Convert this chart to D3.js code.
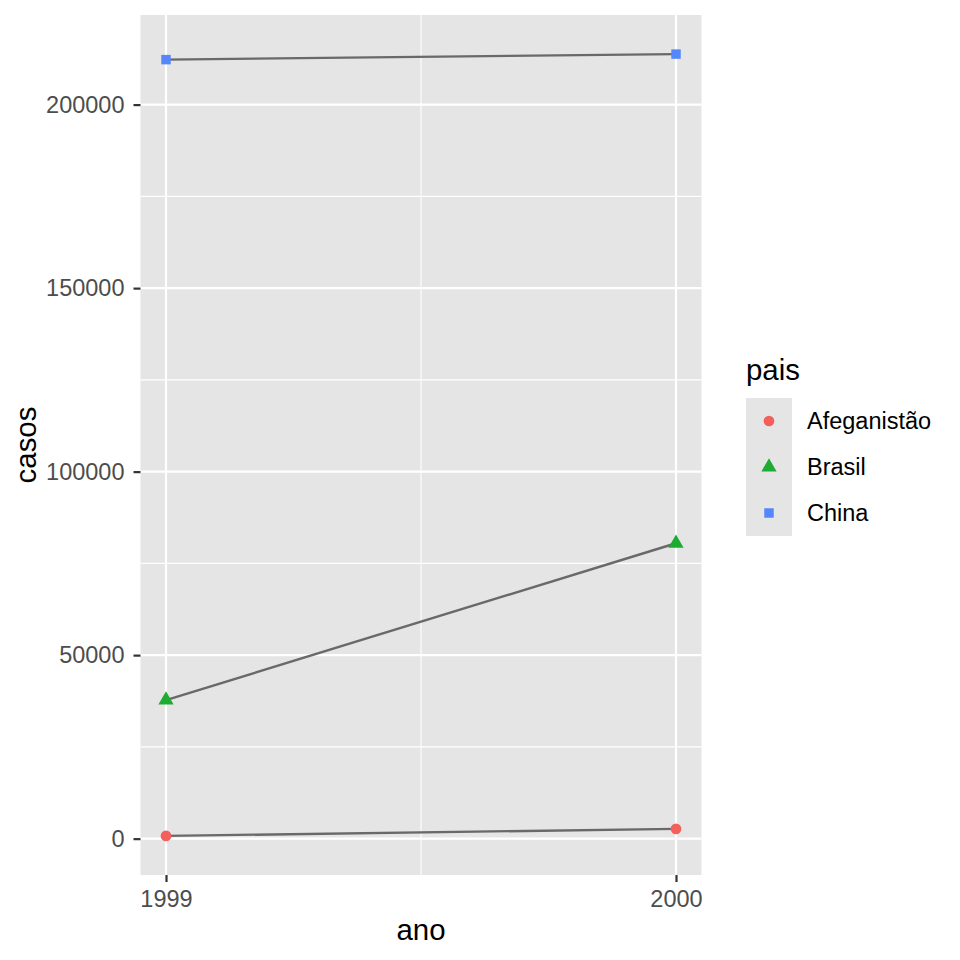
<!DOCTYPE html>
<html>
<head>
<meta charset="utf-8">
<script src="https://cdn.jsdelivr.net/npm/d3@7"></script>
<style>
  body { margin: 0; background: #fff; }
  svg { font-family: 'Liberation Sans', Arial, sans-serif; }
</style>
</head>
<body>
<svg id="chart" width="960" height="960"></svg>
<script>
// table1 style data
const paises = ['Afeganistão', 'Brasil', 'China'];
const anos = [1999, 2000];
const casosAfeganistao = [745, 2666];
const casosBrasil = [37737, 80488];
const casosChina = [212258, 213766];
const yTicks = [0, 50000, 100000, 150000, 200000];
const xTicks = [1999, 2000];

const colors = ['#F35F5B', '#1EAB31', '#5587FC'];
const shapes = [d3.symbolCircle, d3.symbolTriangle, d3.symbolSquare];
const sizes = [90, 100, 90];

const seriesValues = [casosAfeganistao, casosBrasil, casosChina];
const series = paises.map((p, i) => ({
  pais: p,
  values: anos.map((a, j) => ({ ano: a, casos: seriesValues[i][j] }))
}));

// panel bounds
const marginLeft = 140.5;
const marginRight = 701.5;
const marginTop = 15;
const marginBottom = 875;

const allCasos = seriesValues.flat();
const yMin = d3.min(allCasos), yMax = d3.max(allCasos);
const yPad = (yMax - yMin) * 0.05;
const x = d3.scaleLinear()
  .domain([1999 - 0.05, 2000 + 0.05])
  .range([marginLeft, marginRight]);
const y = d3.scaleLinear()
  .domain([yMin - yPad, yMax + yPad])
  .range([marginBottom, marginTop]);

const svg = d3.select('#chart');

// panel background
svg.append('rect')
  .attr('x', marginLeft).attr('y', marginTop)
  .attr('width', marginRight - marginLeft)
  .attr('height', marginBottom - marginTop)
  .attr('fill', '#E5E5E5');

// minor grid
const yMinor = [25000, 75000, 125000, 175000];
svg.append('g')
  .selectAll('line')
  .data(yMinor)
  .join('line')
  .attr('x1', marginLeft).attr('x2', marginRight)
  .attr('y1', (d) => y(d)).attr('y2', (d) => y(d))
  .attr('stroke', '#fff').attr('stroke-width', 1.1);
svg.append('line')
  .attr('x1', x(1999.5)).attr('x2', x(1999.5))
  .attr('y1', marginTop).attr('y2', marginBottom)
  .attr('stroke', '#fff').attr('stroke-width', 1.1);

// major grid
svg.append('g')
  .selectAll('line')
  .data(yTicks)
  .join('line')
  .attr('x1', marginLeft).attr('x2', marginRight)
  .attr('y1', (d) => y(d)).attr('y2', (d) => y(d))
  .attr('stroke', '#fff').attr('stroke-width', 2.2);
svg.append('g')
  .selectAll('line')
  .data(xTicks)
  .join('line')
  .attr('x1', (d) => x(d)).attr('x2', (d) => x(d))
  .attr('y1', marginTop).attr('y2', marginBottom)
  .attr('stroke', '#fff').attr('stroke-width', 2.2);

// axes
const xAxis = svg.append('g')
  .attr('transform', `translate(0,${marginBottom})`)
  .call(d3.axisBottom(x).tickValues(xTicks).tickFormat(d3.format('d')).tickSize(7).tickPadding(8));
const yAxis = svg.append('g')
  .attr('transform', `translate(${marginLeft},0)`)
  .call(d3.axisLeft(y).tickValues(yTicks).tickFormat(d3.format('d')).tickSize(7).tickPadding(9));
[xAxis, yAxis].forEach((g) => {
  g.select('.domain').remove();
  g.selectAll('line').attr('stroke', '#333333').attr('stroke-width', 2.2);
  g.selectAll('text')
    .attr('fill', '#4D4D4D')
    .style('font-size', '23.5px')
    .style('font-family', "'Liberation Sans', Arial, sans-serif");
});

// axis titles
svg.append('text')
  .attr('x', (marginLeft + marginRight) / 2).attr('y', 940)
  .attr('text-anchor', 'middle')
  .style('font-size', '29.4px')
  .text('ano');
svg.append('text')
  .attr('transform', `translate(36,${(marginTop + marginBottom) / 2}) rotate(-90)`)
  .attr('text-anchor', 'middle')
  .style('font-size', '29.4px')
  .text('casos');

// lines
const line = d3.line().x((d) => x(d.ano)).y((d) => y(d.casos));
svg.append('g')
  .selectAll('path')
  .data(series)
  .join('path')
  .attr('d', (d) => line(d.values))
  .attr('fill', 'none')
  .attr('stroke', '#696969')
  .attr('stroke-width', 2.4);

// points
series.forEach((s, i) => {
  svg.append('g')
    .selectAll('path')
    .data(s.values)
    .join('path')
    .attr('transform', (d) => `translate(${x(d.ano)},${y(d.casos)})`)
    .attr('d', d3.symbol(shapes[i], sizes[i]))
    .attr('fill', colors[i]);
});

// legend
const legend = svg.append('g').attr('transform', 'translate(746,0)');
legend.append('text')
  .attr('x', 0).attr('y', 380)
  .style('font-size', '29.4px')
  .text('pais');
paises.forEach((p, i) => {
  const cy = 421 + i * 46;
  legend.append('rect')
    .attr('x', 0).attr('y', cy - 23)
    .attr('width', 46).attr('height', 46)
    .attr('fill', '#E5E5E5');
  legend.append('path')
    .attr('transform', `translate(23,${cy})`)
    .attr('d', d3.symbol(shapes[i], sizes[i]))
    .attr('fill', colors[i]);
  legend.append('text')
    .attr('x', 61).attr('y', cy + 8)
    .style('font-size', '23.5px')
    .text(p);
});
</script>
</body>
</html>
